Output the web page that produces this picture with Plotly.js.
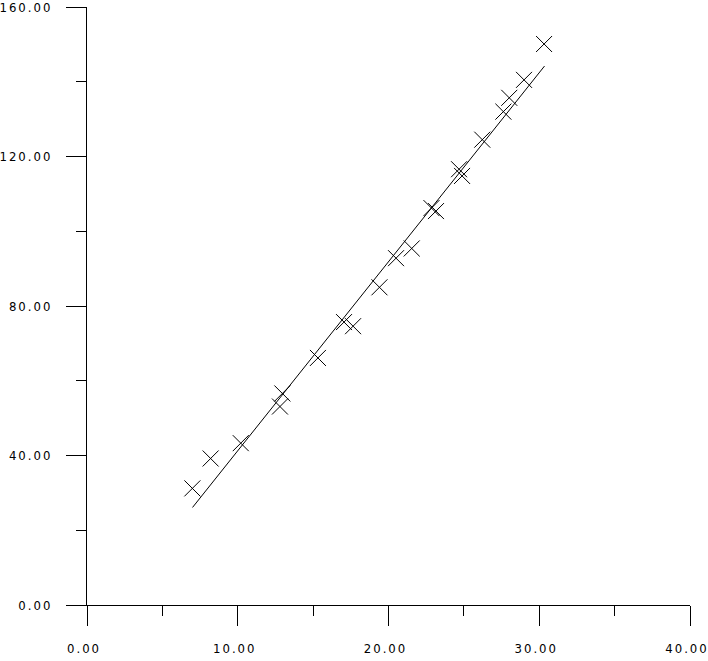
<!DOCTYPE html>
<html>
<head>
<meta charset="utf-8">
<script src="https://cdn.plot.ly/plotly-3.0.1.min.js"></script>
<style>
  html, body { margin: 0; padding: 0; background: #fff; }
  #chart { width: 708px; height: 661px; }
  .xtick text, .ytick text { letter-spacing: 2px; font-stretch: condensed; }
</style>
</head>
<body>
<div id="chart"></div>
<script>
// Observed points (x, y)
const pointX = [6.99, 8.20, 10.20, 12.96, 12.80, 15.32, 17.05, 17.65, 19.40, 20.50,
                21.54, 22.85, 23.15, 24.68, 24.88, 26.22, 27.62, 28.01, 28.99, 30.32];
const pointY = [31.2, 39.2, 43.3, 56.6, 53.1, 66.1, 75.7, 74.6, 85.0, 92.8,
                95.4, 106.2, 105.4, 116.6, 114.8, 124.5, 132.0, 135.7, 140.5, 150.1];

// Fitted line end points
const fitX = [7.0, 30.35];
const fitY = [26.1, 144.2];

// Tick labels
const xTickVals = [0, 10, 20, 30, 40];
const xTickText = ["0.00", "10.00", "20.00", "30.00", "40.00"];
const yTickVals = [0, 40, 80, 120, 160];
const yTickText = ["0.00", "40.00", "80.00", "120.00", "160.00"];

const tickFont = { family: "DejaVu Sans Condensed, DejaVu Sans, sans-serif", size: 13, color: "#000" };

const traces = [
  {
    x: fitX, y: fitY, type: "scatter", mode: "lines",
    line: { color: "#000", width: 1 }, hoverinfo: "skip"
  },
  {
    x: pointX, y: pointY, type: "scatter", mode: "markers",
    marker: { symbol: "x-thin-open", size: 16, color: "#000", line: { color: "#000", width: 1 } }
  }
];

const layout = {
  width: 708, height: 661,
  margin: { l: 87, r: 18, t: 7, b: 56 },
  paper_bgcolor: "#fff", plot_bgcolor: "#fff",
  showlegend: false,
  xaxis: {
    range: [0, 40], showgrid: false, zeroline: false,
    showline: true, linecolor: "#000", linewidth: 1,
    ticks: "outside", ticklen: 20, tickwidth: 1, tickcolor: "#000",
    tickvals: xTickVals, ticktext: xTickText, tickfont: tickFont,
    ticklabelstandoff: 11, ticklabelshift: -3, ticklabeloverflow: "allow",
    minor: { dtick: 5, ticks: "outside", ticklen: 10, tickwidth: 1, tickcolor: "#000", showgrid: false }
  },
  yaxis: {
    range: [0, 160], showgrid: false, zeroline: false,
    showline: true, linecolor: "#000", linewidth: 1,
    ticks: "outside", ticklen: 20, tickwidth: 1, tickcolor: "#000",
    tickvals: yTickVals, ticktext: yTickText, tickfont: tickFont,
    ticklabelstandoff: 11, ticklabeloverflow: "allow",
    minor: { dtick: 20, ticks: "outside", ticklen: 10, tickwidth: 1, tickcolor: "#000", showgrid: false }
  }
};

Plotly.newPlot("chart", traces, layout, { staticPlot: true, displayModeBar: false });
</script>
</body>
</html>
